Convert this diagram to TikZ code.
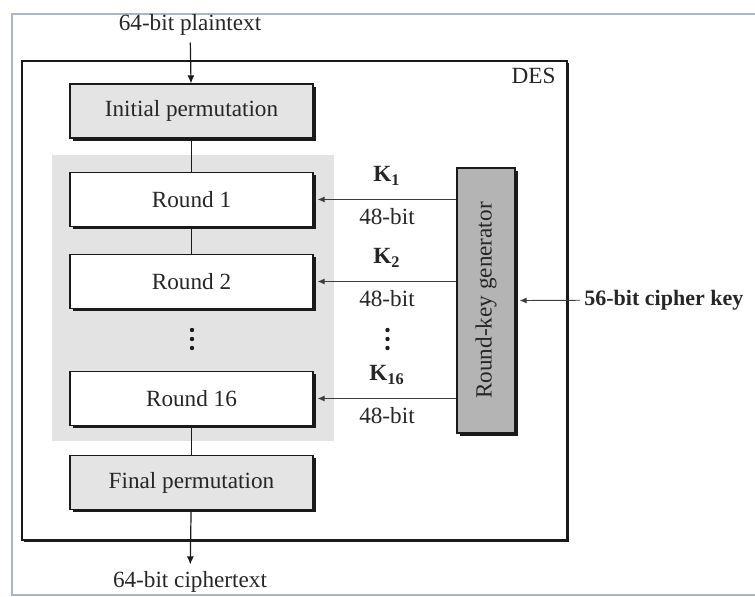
\documentclass[tikz,border=0pt]{standalone}
\usepackage{fontspec}
\setmainfont{Liberation Serif}
\usetikzlibrary{arrows.meta,calc,positioning,shadows}
\definecolor{DesInk}{HTML}{1A1A1A}
\definecolor{DesText}{HTML}{262626}
\definecolor{DesPerm}{HTML}{E4E4E4}
\definecolor{DesBand}{HTML}{E3E3E3}
\definecolor{DesGen}{HTML}{B4B4B4}
\definecolor{DesFrame}{HTML}{AAB6CA}
\tikzset{
  every node/.style={font=\fontsize{11.6}{13}\selectfont, text=DesText},
  hardshadow/.style={drop shadow={shadow xshift=1.5pt, shadow yshift=-1.5pt, fill=DesInk, opacity=1}},
  stage/.style={draw=DesInk, line width=0.6pt, minimum width=121.5pt, minimum height=27pt, hardshadow},
  perm/.style={stage, fill=DesPerm},
  roundbox/.style={stage, fill=white},
  generator/.style={draw=DesInk, line width=0.6pt, fill=DesGen, minimum width=29pt, minimum height=132.5pt, inner sep=0pt, hardshadow},
  desbox/.style={draw=DesInk, line width=0.9pt, fill=white, drop shadow={shadow xshift=1pt, shadow yshift=-1pt, fill=DesInk, opacity=1}},
  pageframe/.style={draw=DesFrame, line width=0.8pt},
  link/.style={draw=DesInk, line width=0.6pt},
  flow/.style={link, -{Latex[length=4pt,width=3.5pt]}},
  keyflow/.style={draw=DesInk!85, line width=0.45pt, -{Latex[length=3.5pt,width=3pt]}},
  dotmark/.style={fill=DesInk},
}
\begin{document}
\begin{tikzpicture}[x=0.5pt,y=-0.5pt]
  \useasboundingbox (0,0) rectangle (755,597);
  % page frame
  \draw[pageframe] (755,14) -- (12,14) -- (12,595) -- (755,595);
  % DES enclosure
  \node[desbox, minimum width=272.5pt, minimum height=239.5pt] (des) at (294.5,300.5) {};
  \node[below left=2pt and 4pt of des.north east, inner sep=2pt] (deslabel) {DES};
  % shaded band behind the rounds
  \fill[DesBand] (52,155) rectangle (334,441);
  % permutations and rounds
  \node[perm] (init) at (191.5,111) {Initial permutation};
  \node[roundbox] (r1) at (191.5,199.5) {Round 1};
  \node[roundbox] (r2) at (191.5,281.5) {Round 2};
  \coordinate (rdots) at (192,339);
  \node[roundbox] (r16) at (191.5,398.5) {Round 16};
  \node[perm] (final) at (191.5,482.5) {Final permutation};
  % input and output
  \node (plain) at (190,25) {64-bit plaintext};
  \node (cipher) at (190,582) {64-bit ciphertext};
  \draw[flow] (plain) -- (init);
  \draw[link] (init) -- (r1);
  \draw[link] (r1) -- (r2);
  \draw[link] (r16) -- (final);
  \draw[flow] (final) -- (cipher);
  % key schedule
  \node[generator] (rkg) at (486,300.5) {\rotatebox{90}{Round-key generator}};
  \node[anchor=west, inner sep=2pt, font=\fontsize{11}{13}\selectfont\bfseries] (ckey) at (580,300) {56-bit cipher key};
  \draw[keyflow] (ckey) -- ([xshift=2pt]rkg.east);
  \foreach \r/\k in {r1/1, r2/2, r16/16}
    \draw[keyflow] (rkg.west |- \r.east) -- ([xshift=2pt]\r.east)
      node[midway, above=3.5pt] (k\k) {\textbf{K\textsubscript{\k}}}
      node[midway, below=1pt] (w\k) {48-bit};
  \coordinate (kdots) at (387.5,339);
  % vertical ellipses
  \foreach \c in {rdots, kdots}
    \foreach \d in {-9,0,9}
      \fill[dotmark] ($(\c)+(0,\d)$) circle (1.1pt);
\end{tikzpicture}
\end{document}
